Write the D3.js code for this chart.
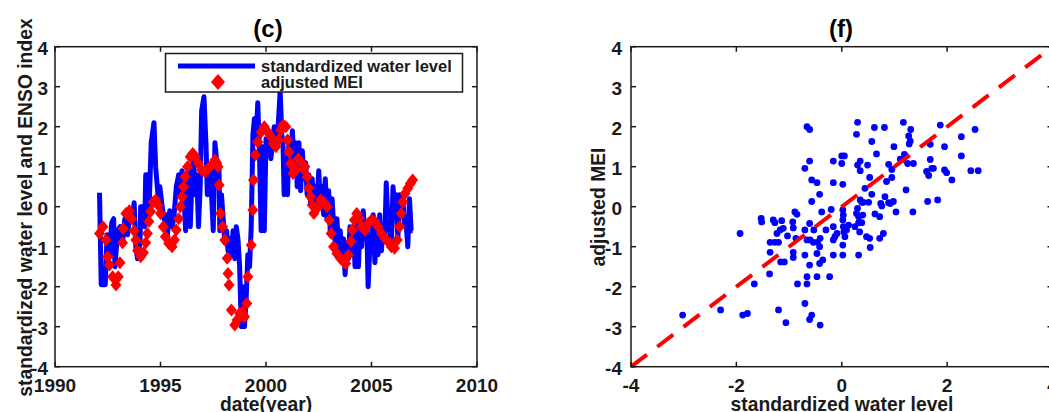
<!DOCTYPE html>
<html><head><meta charset="utf-8">
<script src="https://cdn.jsdelivr.net/npm/d3@7"></script>
<style>
body{margin:0;background:#fff;}
svg{display:block;font-family:"Liberation Sans",Arial,sans-serif;font-weight:bold;}
</style></head>
<body>
<svg id="chart" width="1049" height="412"></svg>
<script>
// ---------- Panel (c): time series ----------
const waterYears = [1992.11,1992.19,1992.38,1992.47,1992.58,1992.69,1992.78,1992.84,1992.97,1993.09,1993.20,1993.31,1993.44,1993.56,1993.67,1993.75,1993.83,1993.91,1994.03,1994.06,1994.19,1994.25,1994.30,1994.38,1994.45,1994.56,1994.69,1994.77,1994.88,1994.97,1995.08,1995.16,1995.23,1995.31,1995.44,1995.55,1995.63,1995.75,1995.86,1995.94,1996.02,1996.09,1996.19,1996.25,1996.33,1996.41,1996.48,1996.56,1996.64,1996.72,1996.80,1996.88,1996.95,1997.06,1997.16,1997.22,1997.31,1997.42,1997.50,1997.58,1997.69,1997.77,1997.81,1997.89,1997.97,1998.05,1998.13,1998.20,1998.28,1998.36,1998.44,1998.52,1998.59,1998.67,1998.75,1998.83,1998.91,1998.98,1999.06,1999.14,1999.22,1999.30,1999.38,1999.45,1999.53,1999.61,1999.69,1999.77,1999.84,1999.92,2000.00,2000.08,2000.16,2000.23,2000.31,2000.39,2000.47,2000.55,2000.63,2000.67,2000.75,2000.81,2000.86,2000.94,2001.02,2001.09,2001.17,2001.25,2001.33,2001.41,2001.48,2001.56,2001.64,2001.72,2001.80,2001.88,2001.95,2002.03,2002.11,2002.19,2002.27,2002.34,2002.42,2002.50,2002.58,2002.66,2002.73,2002.81,2002.89,2002.97,2003.05,2003.13,2003.20,2003.28,2003.36,2003.44,2003.52,2003.59,2003.67,2003.75,2003.83,2003.91,2003.98,2004.06,2004.14,2004.22,2004.30,2004.38,2004.45,2004.53,2004.61,2004.69,2004.77,2004.84,2004.92,2005.00,2005.08,2005.16,2005.23,2005.31,2005.39,2005.47,2005.55,2005.63,2005.70,2005.78,2005.86,2005.94,2006.02,2006.09,2006.17,2006.25,2006.33,2006.41,2006.48,2006.56,2006.64,2006.72,2006.80,2006.88,2006.95];
const waterLevel = [0.35,-1.95,-1.95,-0.7,-1.2,-0.4,-0.3,-1.5,-0.6,-0.5,-0.9,-0.3,-0.7,-0.1,-0.3,0.1,-1.0,-1.3,-0.9,0.0,0.0,-0.5,0.8,0.8,-0.2,1.6,2.1,1.0,0.3,0.5,0.0,-0.3,-0.2,-0.8,-0.1,-0.5,-0.3,0.5,0.8,0.3,0.9,0.5,-0.6,0.5,0.9,-0.5,0.5,1.3,0.3,0.8,-0.5,0.5,2.4,2.75,1.5,0.3,0.9,0.3,-0.6,1.6,1.0,1.1,-0.6,0.3,-0.3,-0.9,-0.6,-1.1,-0.8,-1.2,-0.6,-1.3,-0.5,-0.8,-1.5,-3.0,-2.0,-3.0,-2.3,-1.2,-1.5,-0.5,1.8,2.2,1.7,2.6,1.3,-0.6,1.5,-0.6,1.7,1.3,1.8,1.2,1.6,2.0,1.5,1.8,2.5,2.9,1.8,1.5,0.3,1.2,0.3,1.7,1.2,1.9,1.0,1.6,0.5,1.6,0.4,1.4,0.7,1.1,0.3,0.8,0.1,0.7,-0.2,0.5,0.1,0.9,0.0,0.5,-0.2,0.7,-0.3,0.4,-0.7,0.2,-0.4,-0.9,-0.3,-1.0,-0.6,-1.3,-0.8,-1.7,-0.9,-1.3,-0.5,-1.2,-0.5,-1.5,-0.2,-1.5,-0.6,-1.0,-0.1,-0.8,-0.4,-2.0,-1.0,-0.9,-0.2,-1.4,-0.6,-1.2,-0.2,-1.1,-0.5,-0.8,0.6,-0.4,-0.5,-1.0,0.5,0.0,0.3,-0.8,0.3,-0.2,0.3,-0.5,-0.4,-1.0,0.2,-0.6,-0.6];

const meiYears = [1992.11,1992.27,1992.42,1992.50,1992.58,1992.73,1992.89,1993.00,1993.08,1993.20,1993.23,1993.36,1993.52,1993.63,1993.75,1993.83,1993.91,1994.06,1994.19,1994.30,1994.38,1994.45,1994.53,1994.66,1994.77,1994.88,1995.00,1995.13,1995.23,1995.39,1995.55,1995.66,1995.75,1995.86,1995.94,1996.02,1996.09,1996.17,1996.28,1996.41,1996.53,1996.64,1996.80,1996.95,1997.11,1997.27,1997.42,1997.58,1997.66,1997.73,1997.78,1997.84,1997.94,1998.05,1998.16,1998.20,1998.25,1998.36,1998.52,1998.63,1998.75,1998.88,1998.98,1999.09,1999.14,1999.30,1999.38,1999.41,1999.50,1999.61,1999.77,1999.92,2000.08,2000.23,2000.34,2000.47,2000.59,2000.70,2000.81,2000.94,2001.02,2001.09,2001.17,2001.28,2001.41,2001.53,2001.64,2001.75,2001.84,2001.95,2002.03,2002.11,2002.19,2002.27,2002.42,2002.58,2002.73,2002.89,2003.00,2003.09,2003.20,2003.36,2003.52,2003.67,2003.78,2003.91,2004.03,2004.09,2004.19,2004.30,2004.41,2004.53,2004.69,2004.84,2005.00,2005.16,2005.31,2005.47,2005.63,2005.78,2005.94,2006.09,2006.22,2006.33,2006.41,2006.48,2006.59,2006.72,2006.84,2006.95];
const meiValues = [-0.67,-0.5,-0.83,-1.25,-1.46,-1.75,-1.96,-1.75,-1.4,-0.9,-0.55,-0.17,-0.1,-0.3,-0.6,-0.83,-1.1,-1.25,-1.15,-0.9,-0.67,-0.37,-0.12,0.12,0.17,0.04,-0.17,-0.5,-0.75,-0.92,-1.0,-0.83,-0.58,-0.3,0.0,0.25,0.5,0.75,1.0,1.25,1.33,1.25,1.08,0.92,0.87,0.96,1.04,1.17,1.08,1.0,0.54,-0.17,-0.5,-0.83,-1.29,-1.67,-1.96,-2.58,-2.96,-2.83,-2.67,-2.63,-2.75,-2.42,-1.75,-0.96,-0.08,0.67,1.29,1.62,1.87,2.0,1.87,1.75,1.58,1.5,1.67,1.92,2.04,2.0,1.67,1.37,1.08,0.83,0.92,1.2,1.12,0.96,1.0,0.75,0.46,0.25,0.04,-0.17,-0.04,0.17,0.12,0.0,-0.33,-0.67,-1.0,-1.17,-1.29,-1.37,-1.42,-1.21,-0.87,-0.58,-0.33,-0.17,-0.29,-0.5,-0.58,-0.42,-0.33,-0.37,-0.5,-0.67,-0.79,-0.87,-1.0,-1.04,-0.83,-0.5,-0.17,0.12,0.33,0.46,0.58,0.67];

const xTicksC = [1990,1995,2000,2005,2010];
const yTicks = [-4,-3,-2,-1,0,1,2,3,4];

// ---------- Panel (f): scatter ----------
const scatterWater = [-3.02,-2.30,-1.93,-1.88,-1.79,-1.66,-1.53,-1.52,-1.37,-1.36,-1.36,-1.30,-1.27,-1.27,-1.20,-1.23,-1.17,-1.14,-1.20,-1.16,-1.09,-1.11,-1.06,-1.03,-0.92,-0.93,-0.92,-0.92,-0.89,-0.85,-0.87,-0.84,-0.70,-0.70,-0.70,-0.70,-0.66,-0.61,-0.66,-0.66,-0.61,-0.61,-0.66,-0.60,-0.61,-0.61,-0.57,-0.57,-0.47,-0.57,-0.53,-0.54,-0.46,-0.47,-0.47,-0.42,-0.42,-0.41,-0.42,-0.41,-0.38,-0.36,-0.30,-0.23,-0.20,-0.16,-0.16,-0.16,-0.16,-0.13,-0.16,-0.09,0.00,0.05,0.00,0.02,0.02,0.03,0.02,0.03,0.04,0.06,0.02,0.02,0.09,0.13,0.25,0.28,0.30,0.32,0.32,0.34,0.28,0.30,0.30,0.35,0.35,0.32,0.35,0.38,0.41,0.38,0.40,0.44,0.47,0.53,0.51,0.49,0.53,0.54,0.57,0.57,0.62,0.63,0.66,0.72,0.72,0.74,0.76,0.79,0.81,0.82,0.85,0.89,0.89,0.92,0.95,0.99,0.95,0.98,1.03,1.17,1.11,1.19,1.16,1.22,1.27,1.28,1.30,1.31,1.25,1.36,1.35,1.61,1.65,1.63,1.68,1.68,1.71,1.74,1.82,1.87,1.95,1.95,1.99,2.09,2.27,2.27,2.45,2.59,2.53];
const scatterMEI = [-2.71,-2.58,-0.67,-2.71,-2.67,-1.93,-0.29,-0.38,-1.68,-1.14,-0.89,-0.33,-0.40,-0.89,-0.89,-0.67,-0.58,-0.35,-2.58,-1.38,-1.38,-0.54,-2.90,-0.73,-0.53,-0.38,-1.14,-1.27,-0.13,-0.19,-0.79,-1.93,0.96,-0.58,-1.21,-2.42,2.00,1.93,-1.75,-1.93,1.14,-0.42,-0.83,-0.83,-1.46,-2.82,-2.71,0.67,0.60,0.13,-0.58,-0.89,-0.89,-1.75,-1.17,0.31,-1.00,-0.79,-1.42,-2.96,-0.13,-1.33,-0.58,-1.75,-0.07,1.14,0.60,-0.50,-0.83,-0.75,-1.21,-0.67,1.27,1.27,1.08,0.56,-0.08,-0.21,-0.33,-0.50,-0.63,-0.75,-0.96,-1.21,-0.58,-0.46,-0.50,-0.17,-0.04,-0.25,-0.40,-0.63,1.81,2.11,1.04,1.14,0.90,-1.21,0.17,0.11,0.11,-0.40,-0.21,0.46,-0.75,-0.79,0.11,1.04,0.73,-1.02,1.63,0.31,1.98,-0.18,1.32,-0.25,-0.79,0.08,0.02,-0.67,1.98,0.25,0.63,1.06,0.10,0.08,0.73,1.50,0.93,0.13,-0.13,2.11,1.19,1.31,1.18,0.42,1.77,1.57,1.64,1.93,1.08,1.08,-0.13,0.88,0.78,0.13,1.56,1.18,0.96,0.96,0.17,2.04,1.50,0.92,0.85,0.67,1.75,1.27,0.90,0.90,1.93];
const xTicksF = [-4,-2,0,2,4];
const refLine = [-4,4];

const svg = d3.select("#chart");
const axisColor = "#1a1a1a";
const plotTop = 46.7, plotBottom = 366.7;
const tickFont = 19, labelFont = 19.3;

function frame(g, x, y, xt, yt, ypad) {
  const [x0,x1] = x.range(), [y0,y1] = y.range();
  xt.forEach(t => {
    const px = x(t);
    g.append("line").attr("x1",px).attr("x2",px).attr("y1",y0).attr("y2",y0-5).attr("stroke",axisColor).attr("stroke-width",1.5);
    g.append("line").attr("x1",px).attr("x2",px).attr("y1",y1).attr("y2",y1+5).attr("stroke",axisColor).attr("stroke-width",1.5);
    g.append("text").attr("x",px).attr("y",y0+25.5).attr("text-anchor","middle").attr("font-size",tickFont).attr("fill",axisColor).text(t);
  });
  yt.forEach(t => {
    const py = y(t);
    g.append("line").attr("x1",x0).attr("x2",x0+5).attr("y1",py).attr("y2",py).attr("stroke",axisColor).attr("stroke-width",1.5);
    g.append("line").attr("x1",x1).attr("x2",x1-5).attr("y1",py).attr("y2",py).attr("stroke",axisColor).attr("stroke-width",1.5);
    g.append("text").attr("x",x0-ypad).attr("y",py+8).attr("text-anchor","end").attr("font-size",tickFont).attr("fill",axisColor).text(t);
  });
  g.append("rect").attr("x",x0).attr("y",y1).attr("width",x1-x0).attr("height",y0-y1)
    .attr("fill","none").attr("stroke",axisColor).attr("stroke-width",1.5);
}

// Panel (c)
const xc = d3.scaleLinear().domain([1990,2010]).range([55,477]);
const yc = d3.scaleLinear().domain([-4,4]).range([plotBottom,plotTop]);
const gc = svg.append("g");
svg.append("clipPath").attr("id","clipc").append("rect").attr("x",55).attr("y",plotTop).attr("width",422).attr("height",plotBottom-plotTop);
const dataC = gc.append("g").attr("clip-path","url(#clipc)");
dataC.append("path")
  .attr("d", d3.line().x((d,i)=>xc(waterYears[i])).y(d=>yc(d))(waterLevel))
  .attr("fill","none").attr("stroke","#0000ff").attr("stroke-width",5).attr("stroke-linejoin","round");
const diamond = (cx,cy,w,h) => `M${cx},${cy-h}L${cx+w},${cy}L${cx},${cy+h}L${cx-w},${cy}Z`;
dataC.selectAll("path.mei").data(meiValues).enter().append("path").attr("class","mei")
  .attr("d",(d,i)=>diamond(xc(meiYears[i]), yc(d), 5.5, 6.5)).attr("fill","#ff0000").attr("stroke","none");
frame(gc, xc, yc, xTicksC, yTicks, 7);
gc.append("text").attr("x",268).attr("y",37).attr("text-anchor","middle").attr("font-size",24).attr("fill","#000").text("(c)");
gc.append("text").attr("x",266).attr("y",411).attr("text-anchor","middle").attr("font-size",labelFont).attr("fill",axisColor).text("date(year)");
gc.append("text").attr("transform","translate(32,207.5) rotate(-90)").attr("text-anchor","middle").attr("font-size",labelFont).attr("fill",axisColor).text("standardized water level and ENSO index");
const lg = gc.append("g");
lg.append("rect").attr("x",165.5).attr("y",53.5).attr("width",297).attr("height",38.5).attr("fill","#fff").attr("stroke",axisColor).attr("stroke-width",1.5);
lg.append("line").attr("x1",178).attr("x2",255).attr("y1",66).attr("y2",66).attr("stroke","#0000ff").attr("stroke-width",5);
lg.append("path").attr("d",diamond(218,82,7,8)).attr("fill","#ff0000");
lg.append("text").attr("x",261).attr("y",72).attr("font-size",16.5).attr("fill",axisColor).text("standardized water level");
lg.append("text").attr("x",261).attr("y",88).attr("font-size",16.5).attr("fill",axisColor).text("adjusted MEI");

// Panel (f)
const xf = d3.scaleLinear().domain([-4,4]).range([631,1052.5]);
const yf = d3.scaleLinear().domain([-4,4]).range([plotBottom,plotTop]);
const gf = svg.append("g");
gf.selectAll("circle").data(scatterMEI).enter().append("circle")
  .attr("cx",(d,i)=>xf(scatterWater[i])).attr("cy",d=>yf(d)).attr("r",3.4).attr("fill","#0000ff");
gf.append("line").attr("x1",xf(refLine[0])).attr("y1",yf(refLine[0])).attr("x2",xf(refLine[1])).attr("y2",yf(refLine[1]))
  .attr("stroke","#ff0000").attr("stroke-width",4).attr("stroke-dasharray","20,13");
frame(gf, xf, yf, xTicksF, yTicks, 9);
gf.append("text").attr("x",841).attr("y",37).attr("text-anchor","middle").attr("font-size",24).attr("fill","#000").text("(f)");
gf.append("text").attr("x",842).attr("y",411).attr("text-anchor","middle").attr("font-size",labelFont).attr("fill",axisColor).text("standardized water level");
gf.append("text").attr("transform","translate(605,207) rotate(-90)").attr("text-anchor","middle").attr("font-size",labelFont).attr("fill",axisColor).text("adjusted MEI");
</script>
</body></html>
